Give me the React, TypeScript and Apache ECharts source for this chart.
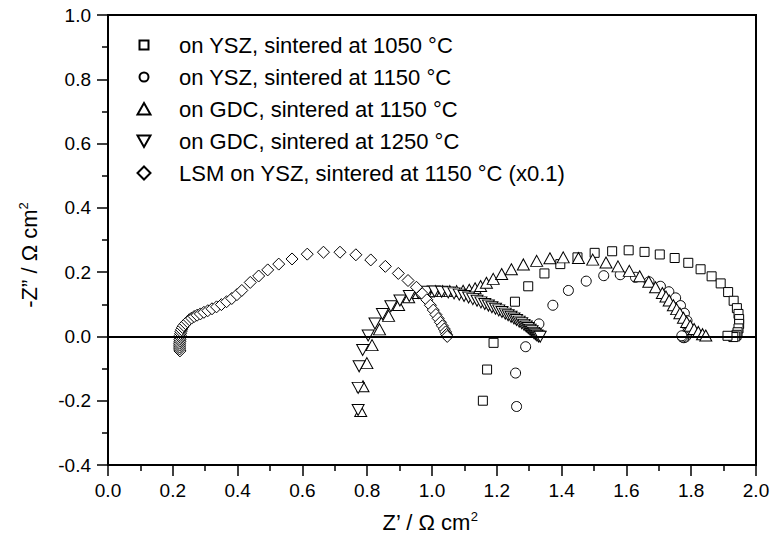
import React, { useEffect, useRef } from 'react';
import * as echarts from 'echarts';

const FONT = "'Liberation Sans', Arial, Helvetica, sans-serif";

const seriesNames = [
  'on YSZ, sintered at 1050 °C',
  'on YSZ, sintered at 1150 °C',
  'on GDC, sintered at 1150 °C',
  'on GDC, sintered at 1250 °C',
  'LSM on YSZ, sintered at 1150 °C (x0.1)',
];

const ysz1050: number[][] = [
  [1.157, -0.2], [1.17, -0.103], [1.19, -0.02], [1.256, 0.108], [1.297, 0.156], [1.347, 0.196],
  [1.396, 0.225], [1.449, 0.246], [1.502, 0.26], [1.556, 0.265], [1.607, 0.268], [1.656, 0.263],
  [1.703, 0.255], [1.749, 0.244], [1.791, 0.229], [1.829, 0.209], [1.863, 0.187], [1.891, 0.165],
  [1.914, 0.138], [1.931, 0.111], [1.941, 0.088], [1.946, 0.07], [1.948, 0.054], [1.948, 0.039],
  [1.946, 0.025], [1.943, 0.013], [1.94, 0.005], [1.936, 0.0], [1.93, -0.002], [1.912, 0.002],
];

const ysz1150: number[][] = [
  [1.261, -0.218], [1.258, -0.114], [1.289, -0.032], [1.33, 0.039], [1.373, 0.097], [1.421, 0.143],
  [1.476, 0.172], [1.53, 0.189], [1.581, 0.192], [1.628, 0.184], [1.67, 0.17], [1.705, 0.156],
  [1.731, 0.139], [1.752, 0.12], [1.767, 0.096], [1.779, 0.072], [1.787, 0.049], [1.79, 0.028],
  [1.789, 0.013], [1.786, 0.004], [1.782, -0.002], [1.777, -0.004], [1.773, -0.002], [1.771, 0.002],
];

const gdc1150: number[][] = [
  [0.78, -0.232], [0.787, -0.155], [0.799, -0.083], [0.815, -0.027], [0.838, 0.022], [0.866, 0.064],
  [0.897, 0.098], [0.928, 0.122], [0.958, 0.135], [0.985, 0.14], [1.01, 0.141], [1.033, 0.141],
  [1.055, 0.141], [1.076, 0.141], [1.096, 0.142], [1.115, 0.145], [1.133, 0.15], [1.15, 0.157],
  [1.168, 0.167], [1.189, 0.179], [1.215, 0.194], [1.245, 0.209], [1.282, 0.224], [1.323, 0.235],
  [1.364, 0.243], [1.405, 0.246], [1.452, 0.244], [1.496, 0.239], [1.537, 0.23], [1.574, 0.218],
  [1.609, 0.204], [1.641, 0.187], [1.669, 0.17], [1.69, 0.153], [1.711, 0.135], [1.722, 0.124],
  [1.732, 0.112], [1.745, 0.097], [1.755, 0.085], [1.765, 0.072], [1.776, 0.058], [1.786, 0.045],
  [1.797, 0.033], [1.809, 0.023], [1.822, 0.014], [1.835, 0.007], [1.845, 0.003],
];

const gdc1250: number[][] = [
  [0.772, -0.229], [0.772, -0.16], [0.775, -0.093], [0.786, -0.042], [0.803, 0.003], [0.824, 0.04],
  [0.847, 0.07], [0.873, 0.094], [0.901, 0.112], [0.93, 0.126], [0.958, 0.135], [0.985, 0.139],
  [1.008, 0.14], [1.03, 0.139], [1.05, 0.137], [1.068, 0.134], [1.084, 0.13], [1.099, 0.126],
  [1.113, 0.121], [1.126, 0.116], [1.139, 0.111], [1.151, 0.106], [1.163, 0.101], [1.174, 0.096],
  [1.185, 0.091], [1.196, 0.086], [1.206, 0.081], [1.216, 0.076], [1.226, 0.071], [1.235, 0.066],
  [1.244, 0.061], [1.253, 0.056], [1.261, 0.051], [1.269, 0.046], [1.277, 0.041], [1.284, 0.036],
  [1.291, 0.031], [1.297, 0.026], [1.303, 0.021], [1.309, 0.016], [1.314, 0.011], [1.319, 0.007],
  [1.324, 0.003], [1.329, 0.0], [1.334, -0.001],
];

const lsmYsz: number[][] = [
  [0.222, -0.045], [0.221, -0.039], [0.221, -0.033], [0.221, -0.027], [0.221, -0.021], [0.222, -0.015],
  [0.222, -0.009], [0.223, -0.003], [0.223, 0.003], [0.224, 0.009], [0.225, 0.015], [0.227, 0.021],
  [0.23, 0.028], [0.234, 0.034], [0.239, 0.04], [0.245, 0.046], [0.251, 0.052], [0.258, 0.057],
  [0.266, 0.062], [0.275, 0.066], [0.285, 0.07], [0.296, 0.075], [0.308, 0.08], [0.321, 0.086],
  [0.335, 0.092], [0.35, 0.099], [0.366, 0.108], [0.382, 0.118], [0.398, 0.13], [0.413, 0.143],
  [0.439, 0.168], [0.465, 0.188], [0.493, 0.207], [0.527, 0.225], [0.568, 0.241], [0.615, 0.256],
  [0.665, 0.262], [0.716, 0.262], [0.765, 0.254], [0.811, 0.238], [0.856, 0.218], [0.896, 0.196],
  [0.926, 0.174], [0.952, 0.153], [0.97, 0.133], [0.984, 0.114], [0.995, 0.097], [1.004, 0.082],
  [1.012, 0.068], [1.019, 0.056], [1.026, 0.044], [1.032, 0.033], [1.038, 0.023], [1.042, 0.014],
  [1.045, 0.006], [1.047, 0.0],
];

const markerStyle = { color: '#ffffff', borderColor: '#000000', borderWidth: 1, opacity: 1 };

const fmt = (v: number) => (Math.abs(v) < 1e-9 ? '0.0' : v.toFixed(1));

// legend icons drawn in a 14x14 box (the two moveTo points fix the box)
const squareIcon = 'path://M0,0M14,14M2.5,2.5L11.5,2.5L11.5,11.5L2.5,11.5Z';
const circleIcon = 'path://M0,0M14,14M11.5,7A4.5,4.5,0,1,1,2.5,7A4.5,4.5,0,1,1,11.5,7Z';
const triUpIcon = 'path://M0,0M14,14M7,1L13.5,12.5L0.5,12.5Z';
const triDownIcon = 'path://M0,0M14,14M0.5,1.5L13.5,1.5L7,13Z';
const diamondIcon = 'path://M0,0M14,14M7,0.5L13.5,7L7,13.5L0.5,7Z';

function buildOption() {
  const axisCommon = {
    type: 'value' as const,
    interval: 0.2,
    axisLine: { show: true, onZero: false, lineStyle: { color: '#000', width: 2 } },
    axisTick: { show: true, inside: false, length: 11, lineStyle: { color: '#000', width: 1.5 } },
    minorTick: { show: true, splitNumber: 2, length: 6, lineStyle: { color: '#000', width: 1.5 } },
    splitLine: { show: false },
    minorSplitLine: { show: false },
  };
  return {
    animation: false,
    backgroundColor: '#ffffff',
    grid: {
      left: 108,
      right: 27,
      top: 15,
      bottom: 83,
      show: true,
      borderColor: '#000',
      borderWidth: 2,
      backgroundColor: 'transparent',
    },
    xAxis: {
      ...axisCommon,
      min: 0,
      max: 2,
      axisLabel: { color: '#000', fontSize: 19, margin: 16, fontFamily: FONT, formatter: fmt },
    },
    yAxis: {
      ...axisCommon,
      min: -0.4,
      max: 1.0,
      axisLabel: { color: '#000', fontSize: 19, margin: 17, fontFamily: FONT, formatter: fmt },
    },
    legend: {
      orient: 'vertical',
      left: 136,
      top: 33,
      itemWidth: 14,
      itemHeight: 14,
      itemGap: 8,
      padding: 0,
      selectedMode: false,
      textStyle: {
        fontSize: 22,
        color: '#000',
        lineHeight: 24,
        fontFamily: FONT,
        padding: [0, 0, 0, 23],
      },
      data: [
        { name: seriesNames[0], icon: squareIcon },
        { name: seriesNames[1], icon: circleIcon },
        { name: seriesNames[2], icon: triUpIcon },
        { name: seriesNames[3], icon: triDownIcon },
        { name: seriesNames[4], icon: diamondIcon },
      ],
    },
    series: [
      {
        name: seriesNames[0],
        type: 'scatter',
        symbol: 'rect',
        symbolSize: 9,
        itemStyle: markerStyle,
        data: ysz1050,
        markLine: {
          silent: true,
          symbol: ['none', 'none'],
          label: { show: false },
          lineStyle: { color: '#000', type: 'solid', width: 2 },
          data: [{ yAxis: 0 }],
        },
      },
      {
        name: seriesNames[1],
        type: 'scatter',
        symbol: 'circle',
        symbolSize: 10,
        itemStyle: markerStyle,
        data: ysz1150,
      },
      {
        name: seriesNames[2],
        type: 'scatter',
        symbol: 'triangle',
        symbolSize: [12, 11],
        itemStyle: markerStyle,
        data: gdc1150,
      },
      {
        name: seriesNames[3],
        type: 'scatter',
        symbol: 'triangle',
        symbolRotate: 180,
        symbolSize: [12, 11],
        itemStyle: markerStyle,
        data: gdc1250,
      },
      {
        name: seriesNames[4],
        type: 'scatter',
        symbol: 'diamond',
        symbolSize: 12,
        itemStyle: markerStyle,
        data: lsmYsz,
      },
    ],
    graphic: [
      {
        type: 'text',
        x: 430,
        y: 522,
        style: {
          text: '{b|Z’ / Ω cm}{s|2}',
          align: 'center',
          verticalAlign: 'middle',
          rich: {
            b: { fontSize: 22, fontFamily: FONT, fill: '#000', lineHeight: 24 },
            s: { fontSize: 13, fontFamily: FONT, fill: '#000', verticalAlign: 'top', lineHeight: 13 },
          },
        },
      },
      {
        type: 'text',
        x: 29,
        y: 255,
        rotation: Math.PI / 2,
        style: {
          text: '{b|-Z” / Ω cm}{s|2}',
          align: 'center',
          verticalAlign: 'middle',
          rich: {
            b: { fontSize: 22, fontFamily: FONT, fill: '#000', lineHeight: 24 },
            s: { fontSize: 13, fontFamily: FONT, fill: '#000', verticalAlign: 'top', lineHeight: 13 },
          },
        },
      },
    ],
  };
}

export default function App() {
  const ref = useRef<HTMLDivElement>(null);
  useEffect(() => {
    document.body.style.margin = '0';
    const chart = echarts.init(ref.current as HTMLDivElement, null, { renderer: 'svg' });
    chart.setOption(buildOption() as any);
    return () => chart.dispose();
  }, []);
  return (
    <div
      ref={ref}
      style={{ position: 'absolute', left: 0, top: 0, width: 783, height: 548, background: '#fff' }}
    />
  );
}
